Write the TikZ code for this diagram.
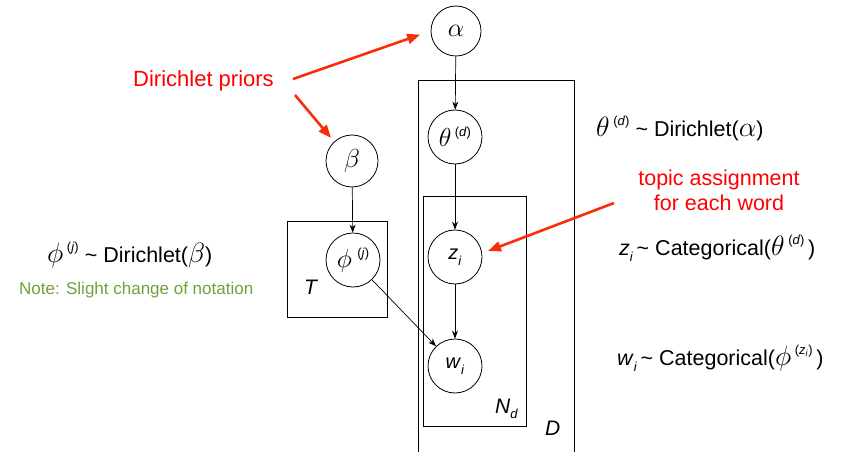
\RequirePackage{fix-cm}
\documentclass[tikz,border=0pt]{standalone}
\usepackage{fontspec}
\setmainfont{Liberation Sans}
\usetikzlibrary{arrows.meta}
\definecolor{txtred}{RGB}{255,0,0}
\definecolor{arrred}{RGB}{250,45,10}
\definecolor{notegreen}{RGB}{112,160,60}
\newcommand{\gk}[1]{\scalebox{1.3}{$#1$}}
\newcommand{\upidx}[1]{\raisebox{0.5em}{\fontsize{13}{14}\selectfont(\textit{#1})}}
\newcommand{\loidx}[1]{\raisebox{-0.28em}{\fontsize{13}{14}\selectfont\textit{#1}}}
\begin{document}
\begin{tikzpicture}[x=1pt,y=-1pt,
  var/.style={draw,circle,minimum size=54pt,inner sep=0pt,line width=0.8pt,font=\fontsize{20}{24}\selectfont},
  edge/.style={-{Stealth[length=8pt,width=6pt]},line width=0.7pt},
  redarrow/.style={-{Triangle[length=13pt,width=10pt]},line width=2.6pt,draw=arrred,fill=arrred},
  plate/.style={draw,line width=0.8pt},
  txt/.style={anchor=base west,inner sep=0pt,font=\fontsize{21.5}{25}\selectfont},
  platelabel/.style={anchor=base west,inner sep=0pt,font=\fontsize{21}{25}\selectfont\itshape},
]
\useasboundingbox (0,0) rectangle (841,452);

% plates
\draw[plate] (418,452) -- (418,80) -- (574,80) -- (574,452);
\draw[plate] (423,196) rectangle (526,426);
\draw[plate] (287,221) rectangle (387,317);

% variables
\node[var,minimum size=50pt] (alpha) at (456,31) {\gk{\alpha}};
\node[var] (theta) at (455,137) {\gk{\theta}\,\upidx{d}};
\node[var,minimum size=52pt] (beta) at (352,161) {\gk{\beta}};
\node[var] (phi) at (353,260) {\gk{\phi}\;\upidx{j}};
\node[var] (z) at (455,257) {\textit{z}\loidx{i}};
\node[var] (w) at (455,366) {\textit{w}\loidx{i}};

% plate labels
\node[platelabel] (Tl) at (304,294) {T};
\node[platelabel] (Ndl) at (495,413) {N\loidx{d}};
\node[platelabel] (Dl) at (545,435) {D};

% edges
\draw[edge] (alpha) -- (theta);
\draw[edge] (theta) -- (z);
\draw[edge] (z) -- (w);
\draw[edge] (beta) -- (phi);
\draw[edge] (phi) -- (w);

% annotations
\node[txt,font=\fontsize{22}{25}\selectfont,text=txtred] (dp) at (133,87) {Dirichlet priors};
\coordinate (dp1) at (293,79);
\coordinate (dp2) at (295,95);
\coordinate (betatip) at (331,138);
\draw[redarrow,shorten >=11pt] (dp1) -- (alpha.west);
\draw[redarrow] (dp2) -- (betatip);

\node[txt,anchor=base,text=txtred] (topic1) at (719,185) {topic assignment};
\node[txt,anchor=base,text=txtred] (topic2) at (719,210) {for each word};
\coordinate (ta1) at (614,203);
\coordinate (ztip) at (488,251);
\draw[redarrow] (ta1) -- (ztip);

\node[txt] (eqtheta) at (596,136) {\gk{\theta}\,\upidx{d} \textasciitilde{} Dirichlet(\gk{\alpha})};
\node[txt] (eqz) at (619,255) {\textit{z}\loidx{i}\,\textasciitilde{} Categorical(\gk{\theta}\,\upidx{d}\,)};
\node[txt] (eqw) at (617,365) {\textit{w}\loidx{i}\,\textasciitilde{} Categorical(\gk{\phi}\,\raisebox{0.5em}{\fontsize{13}{14}\selectfont(\textit{z}\textsubscript{\textit{i}})}\,)};
\node[txt] (eqphi) at (47,262) {\gk{\phi}\,\raisebox{0.5em}{\fontsize{13}{14}\selectfont(\textit{j})} \textasciitilde{} Dirichlet(\gk{\beta})};
\node[txt,font=\fontsize{17}{20}\selectfont,text=notegreen] (note) at (19,294) {Note: Slight change of notation};
\end{tikzpicture}
\end{document}
